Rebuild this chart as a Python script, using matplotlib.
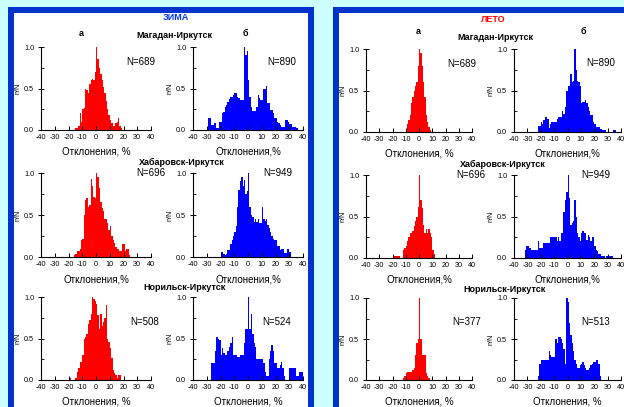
import numpy as np
import matplotlib
matplotlib.use("Agg")
import matplotlib.pyplot as plt
from matplotlib.patches import Rectangle

plt.rcParams['font.family'] = ['Liberation Sans', 'DejaVu Sans']

# ---------------- data (relative frequency n/N per 1% bin) ----------------
x_ticks = [-40, -30, -20, -10, 0, 10, 20, 30, 40]
y_ticks = [0.0, 0.5, 1.0]
x_label_a = "Отклонения, %"
x_label_b = "Отклонения,%"

# Winter (ЗИМА)
w_mag_a_start = -15
w_mag_a = [0.03, 0.03, 0.05, 0.2, 0.1, 0.25, 0.27, 0.5, 0.48, 0.45, 0.55, 0.6, 0.62, 0.6, 0.7,
           1.0, 0.85, 0.75, 0.68, 0.6, 0.52, 0.45, 0.35, 0.25, 0.18, 0.12, 0.08, 0.05, 0.05,
           0.08, 0.1, 0.15, 0.05, 0.03]
w_mag_b_start = -29
w_mag_b = [0.14, 0.14, 0.06, 0.06, 0.08, 0.08, 0.02, 0.02, 0.1, 0.1, 0.2, 0.22, 0.28, 0.3, 0.34,
           0.37, 0.4, 0.4, 0.42, 0.44, 0.44, 0.4, 0.38, 0.36, 0.36, 0.36, 1.0, 0.9, 0.95, 0.6,
           0.4, 0.28, 0.23, 0.23, 0.23, 0.28, 0.42, 0.38, 0.36, 0.36, 0.5, 0.5, 0.53, 0.32, 0.32,
           0.24, 0.24, 0.2, 0.14, 0.14, 0.1, 0.08, 0.06, 0.04, 0.04, 0.04, 0.12, 0.12, 0.1, 0.07,
           0.07, 0.04, 0.04, 0.04, 0.03]
w_hab_a_start = -16
w_hab_a = [0.02, 0.04, 0.07, 0.07, 0.1, 0.2, 0.21, 0.5, 0.68, 0.7, 0.6, 0.62, 0.93, 0.85, 0.72,
           0.7, 1.0, 0.95, 0.82, 0.65, 0.58, 0.55, 0.45, 0.45, 0.4, 0.32, 0.37, 0.25, 0.2, 0.17,
           0.12, 0.1, 0.1, 0.07, 0.07, 0.15, 0.15, 0.07, 0.1, 0.1, 0.02]
w_hab_b_start = -20
w_hab_b = [0.06, 0.06, 0.03, 0.02, 0.04, 0.08, 0.08, 0.15, 0.2, 0.25, 0.3, 0.37, 0.6, 0.8, 0.9,
           0.95, 0.85, 0.92, 0.75, 0.78, 1.0, 0.6, 0.5, 0.48, 0.42, 0.45, 0.42, 0.45, 0.4, 0.4,
           0.6, 0.45, 0.43, 0.45, 0.38, 0.35, 0.3, 0.25, 0.22, 0.2, 0.2, 0.13, 0.13, 0.08, 0.1,
           0.1, 0.05, 0.05, 0.1, 0.1, 0.06]
w_nor_a_start = -20
w_nor_a = [0.03, 0.03, 0.0, 0.0, 0.0, 0.03, 0.1, 0.15, 0.22, 0.22, 0.3, 0.5, 0.52, 0.55, 0.68,
           0.72, 0.8, 1.0, 0.98, 0.95, 0.92, 0.78, 0.62, 0.8, 0.65, 0.7, 0.75, 0.9, 0.5, 0.46,
           0.38, 0.27, 0.12, 0.08, 0.06, 0.03, 0.06, 0.06]
w_nor_b_start = -27
w_nor_b = [0.2, 0.2, 0.2, 0.35, 0.52, 0.5, 0.48, 0.3, 0.38, 0.32, 0.3, 0.3, 0.35, 0.4, 0.45,
           0.52, 0.3, 0.3, 0.3, 0.28, 0.28, 0.3, 0.3, 0.3, 0.45, 0.62, 0.62, 1.0, 0.62, 0.8,
           0.55, 0.45, 0.4, 0.25, 0.25, 0.25, 0.25, 0.25, 0.2, 0.1, 0.05, 0.05, 0.25, 0.35, 0.42,
           0.35, 0.2, 0.2, 0.14, 0.14, 0.18, 0.22, 0.15, 0.05, 0.0, 0.0, 0.0, 0.14, 0.14, 0.14,
           0.14, 0.14, 0.05, 0.05, 0.1, 0.1, 0.1]

# Summer (ЛЕТО)
s_mag_a_start = -10
s_mag_a = [0.04, 0.1, 0.15, 0.2, 0.35, 0.42, 0.5, 0.55, 0.6, 0.8, 1.0, 0.95, 0.8, 0.6, 0.42,
           0.2, 0.12, 0.06, 0.02]
s_mag_b_start = -22
s_mag_b = [0.07, 0.07, 0.12, 0.1, 0.15, 0.18, 0.18, 0.16, 0.05, 0.1, 0.12, 0.12, 0.12, 0.12,
           0.16, 0.18, 0.18, 0.18, 0.25, 0.22, 0.3, 0.5, 0.55, 0.55, 0.7, 0.6, 0.62, 1.0, 0.75,
           0.62, 0.6, 0.55, 0.35, 0.36, 0.36, 0.38, 0.35, 0.3, 0.25, 0.2, 0.2, 0.12, 0.1, 0.06,
           0.06, 0.06, 0.04, 0.04, 0.02, 0.02, 0.02, 0.0, 0.0, 0.0, 0.0, 0.0, 0.02, 0.02]
s_hab_a_start = -20
s_hab_a = [0.03, 0.03, 0.03, 0.03, 0.02, 0.02, 0.0, 0.0, 0.1, 0.12, 0.15, 0.2, 0.25, 0.3, 0.3,
           0.32, 0.38, 0.45, 0.5, 0.62, 1.0, 0.7, 0.6, 0.4, 0.3, 0.35, 0.3, 0.35, 0.3, 0.25,
           0.1, 0.05]
s_hab_b_start = -32
s_hab_b = [0.1, 0.15, 0.15, 0.12, 0.12, 0.1, 0.1, 0.1, 0.1, 0.1, 0.2, 0.12, 0.12, 0.12, 0.18,
           0.18, 0.18, 0.18, 0.18, 0.25, 0.25, 0.25, 0.25, 0.25, 0.2, 0.25, 0.2, 0.3, 0.3, 0.55,
           0.7, 0.8, 1.0, 0.72, 0.4, 0.42, 0.45, 0.7, 0.5, 0.3, 0.25, 0.2, 0.3, 0.32, 0.3, 0.3,
           0.22, 0.28, 0.25, 0.2, 0.25, 0.25, 0.15, 0.1, 0.08, 0.05, 0.05, 0.03, 0.03, 0.03,
           0.0, 0.03, 0.03, 0.03, 0.03, 0.03]
s_nor_a_start = -12
s_nor_a = [0.03, 0.05, 0.08, 0.1, 0.1, 0.1, 0.1, 0.12, 0.15, 0.3, 0.45, 0.5, 1.0, 0.5, 0.3,
           0.3, 0.3, 0.08, 0.05, 0.03]
s_nor_b_start = -22
s_nor_b = [0.05, 0.2, 0.25, 0.25, 0.24, 0.24, 0.24, 0.24, 0.35, 0.3, 0.28, 0.28, 0.28, 0.5,
           0.45, 0.53, 0.52, 0.5, 0.45, 0.38, 0.2, 1.0, 0.95, 0.7, 0.55, 0.45, 0.35, 0.25, 0.2,
           0.15, 0.15, 0.18, 0.2, 0.22, 0.18, 0.15, 0.12, 0.12, 0.15, 0.18, 0.2, 0.22, 0.22,
           0.25, 0.25, 0.2, 0.05]

routes = ["Магадан-Иркутск", "Хабаровск-Иркутск", "Норильск-Иркутск"]
season_titles = ["ЗИМА", "ЛЕТО"]
w_counts = [(689, 890), (696, 949), (508, 524)]
s_counts = [(689, 890), (696, 949), (377, 513)]

# ---------------- figure ----------------
W, H = 624, 407
fig = plt.figure(figsize=(W / 100, H / 100), dpi=100)
fig.patch.set_facecolor('#ccffff')
BLUE_BORDER = '#0033cc'


def fx(x):
    return x / W


def fy(y):
    return 1 - y / H


def rect(x0, y0, x1, y1, color, z):
    fig.patches.append(Rectangle((fx(x0), fy(y1)), (x1 - x0) / W, (y1 - y0) / H,
                                 transform=fig.transFigure, facecolor=color,
                                 edgecolor='none', zorder=z))


for (x0, x1) in [(8, 314), (333, 660)]:
    rect(x0, 7, x1, 430, BLUE_BORDER, -20)
    rect(x0 + 6, 13, x1 - 6, 430, 'white', -19)


def make_ax(x0, x1, ytop, ybot, start, vals, color, xlabel, nlabel, npos):
    ax = fig.add_axes([fx(x0), fy(ybot), (x1 - x0) / W, (ybot - ytop) / H])
    ax.set_facecolor('none')
    xs = start + np.arange(len(vals))
    ax.bar(xs, vals, width=1.0, align='edge', color=color, linewidth=0)
    ax.set_xlim(-40, 40)
    ax.set_ylim(0, 1.0)
    for s in ['top', 'right']:
        ax.spines[s].set_visible(False)
    for s in ['left', 'bottom']:
        ax.spines[s].set_linewidth(0.8)
    ax.set_xticks(x_ticks)
    ax.set_xticklabels([str(t) for t in x_ticks])
    ax.set_yticks(y_ticks)
    ax.set_yticklabels(["%.1f" % t for t in y_ticks])
    ax.set_yticks([0.25, 0.75], minor=True)
    ax.tick_params(axis='x', direction='in', length=3, width=0.7, labelsize=5.2, pad=3)
    ax.tick_params(axis='y', direction='inout', length=4, width=0.7, labelsize=5.2, pad=3)
    ax.tick_params(axis='y', which='minor', direction='in', length=2, width=0.6)
    xc = (x0 + x1) / 2
    fig.text(fx(xc), fy(ybot + 22), xlabel, ha='center', va='center', fontsize=7)
    fig.text(fx(x0 - 23), fy((ytop + ybot) / 2), "n/N", rotation=90, ha='center',
             va='center', fontsize=5.2)
    fig.text(fx(npos[0]), fy(npos[1]), nlabel, ha='center', va='center', fontsize=7)
    return ax


# Winter panel
w_data = [(w_mag_a_start, w_mag_a, w_mag_b_start, w_mag_b),
          (w_hab_a_start, w_hab_a, w_hab_b_start, w_hab_b),
          (w_nor_a_start, w_nor_a, w_nor_b_start, w_nor_b)]
s_data = [(s_mag_a_start, s_mag_a, s_mag_b_start, s_mag_b),
          (s_hab_a_start, s_hab_a, s_hab_b_start, s_hab_b),
          (s_nor_a_start, s_nor_a, s_nor_b_start, s_nor_b)]

w_rows = [(47, 130), (173, 257), (297, 380)]
s_rows = [(49, 132), (175, 258), (298, 380)]
w_xlabels = [(x_label_a, x_label_b), (x_label_b, x_label_b), (x_label_a, x_label_a)]
s_xlabels = [(x_label_a, x_label_b), (x_label_b, x_label_b), (x_label_a, x_label_a)]
w_npos = [((141, 62), (282, 62)), ((151, 173), (278, 173)), ((145, 322), (277, 322))]
s_npos = [((462, 64), (601, 63)), ((471, 175), (596, 175)), ((467, 322), (596, 322))]
w_route_pos = [(174, 35), (182, 162), (185, 288)]
s_route_pos = [(495, 38), (503, 164), (505, 290)]

for i in range(3):
    ytop, ybot = w_rows[i]
    sa, va, sb, vb = w_data[i]
    make_ax(41, 151, ytop, ybot, sa, va, '#ff0000', w_xlabels[i][0],
            "N=%d" % w_counts[i][0], w_npos[i][0])
    make_ax(193, 303, ytop, ybot, sb, vb, '#0000ff', w_xlabels[i][1],
            "N=%d" % w_counts[i][1], w_npos[i][1])
    fig.text(fx(w_route_pos[i][0]), fy(w_route_pos[i][1]), routes[i], ha='center',
             va='center', fontsize=6.5, fontweight='bold')

    ytop, ybot = s_rows[i]
    sa, va, sb, vb = s_data[i]
    make_ax(366, 472, ytop, ybot, sa, va, '#ff0000', s_xlabels[i][0],
            "N=%d" % s_counts[i][0], s_npos[i][0])
    make_ax(514, 621, ytop, ybot, sb, vb, '#0000ff', s_xlabels[i][1],
            "N=%d" % s_counts[i][1], s_npos[i][1])
    fig.text(fx(s_route_pos[i][0]), fy(s_route_pos[i][1]), routes[i], ha='center',
             va='center', fontsize=6.5, fontweight='bold')

fig.text(fx(176), fy(18), season_titles[0], ha='center', va='center', fontsize=6.5,
         fontweight='bold', color='#0033ff')
fig.text(fx(493), fy(19), season_titles[1], ha='center', va='center', fontsize=6.5,
         fontweight='bold', color='#ff0000')
for (x, y) in [(81, 34), (245, 34)]:
    pass
fig.text(fx(81), fy(34), "а", ha='center', va='center', fontsize=6.5, fontweight='bold')
fig.text(fx(245), fy(34), "б", ha='center', va='center', fontsize=6.5, fontweight='bold')
fig.text(fx(418), fy(31), "а", ha='center', va='center', fontsize=6.5, fontweight='bold')
fig.text(fx(583), fy(31), "б", ha='center', va='center', fontsize=6.5, fontweight='bold')

fig.savefig("out.png", dpi=100, facecolor=fig.get_facecolor())
